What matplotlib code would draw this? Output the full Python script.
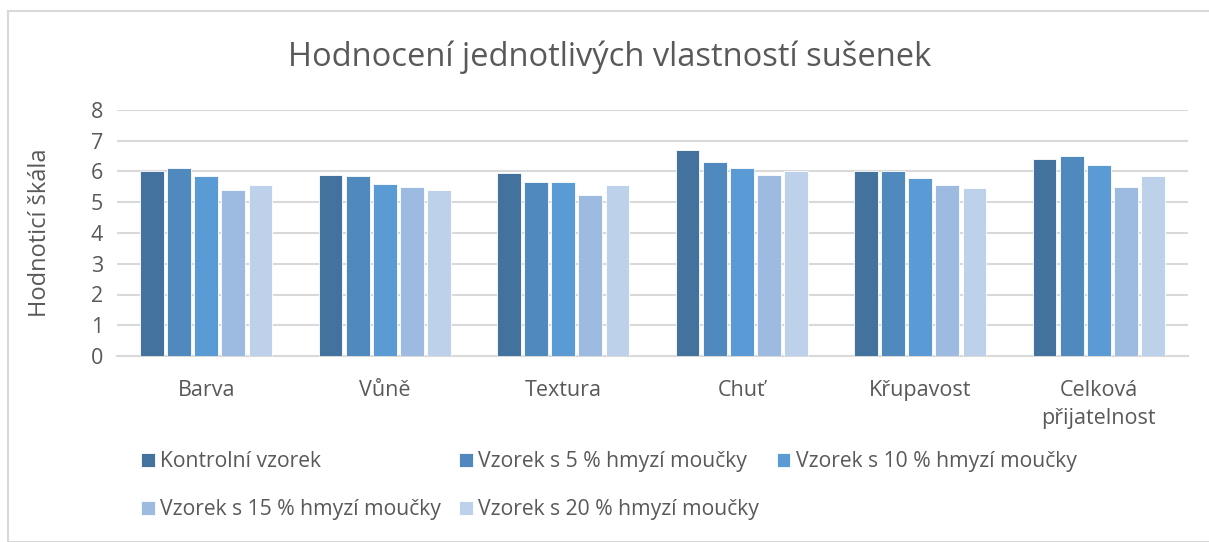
import matplotlib.pyplot as plt
import numpy as np
from matplotlib.patches import Rectangle

categories = ["Barva", "Vůně", "Textura", "Chuť", "Křupavost", "Celková\npřijatelnost"]
series_names = [
    "Kontrolní vzorek",
    "Vzorek s 5 % hmyzí moučky",
    "Vzorek s 10 % hmyzí moučky",
    "Vzorek s 15 % hmyzí moučky",
    "Vzorek s 20 % hmyzí moučky",
]
kontrolni = [6.0, 5.9, 5.95, 6.7, 6.0, 6.4]
vzorek_5 = [6.1, 5.85, 5.65, 6.3, 6.0, 6.5]
vzorek_10 = [5.85, 5.6, 5.65, 6.1, 5.8, 6.2]
vzorek_15 = [5.4, 5.5, 5.25, 5.9, 5.55, 5.5]
vzorek_20 = [5.55, 5.4, 5.55, 6.0, 5.45, 5.85]
colors = ["#43729F", "#4F89BD", "#5B9BD5", "#9DBAE0", "#BDD1EA"]

plt.rcParams['font.family'] = ['Open Sans', 'DejaVu Sans']
text_color = "#595959"

fig = plt.figure(figsize=(12.09, 5.42), dpi=100)
ax = fig.add_axes([117 / 1209, 1 - 356 / 542, (1188 - 117) / 1209, (356 - 110) / 542])

x = np.arange(len(categories))
slot = 0.152
handles = []
for i, (vals, name) in enumerate(zip([kontrolni, vzorek_5, vzorek_10, vzorek_15, vzorek_20], series_names)):
    b = ax.bar(x + (i - 2) * slot, vals, width=slot * 0.88, color=colors[i],
               edgecolor="white", linewidth=0.6, label=name, zorder=3)
    handles.append(b)

ax.set_xlim(-0.5, len(categories) - 0.5)
ax.set_ylim(0, 8)
ax.set_yticks(range(9))
ax.grid(axis="y", color="#D9D9D9", linewidth=1.5, zorder=0)
for s in ["top", "right", "left"]:
    ax.spines[s].set_visible(False)
ax.spines["bottom"].set_color("#D9D9D9")
ax.spines["bottom"].set_linewidth(1.5)
ax.tick_params(length=0, colors=text_color, labelsize=15.5)
ax.tick_params(axis="x", pad=17)
ax.tick_params(axis="y", pad=10)
ax.set_xticks(x)
ax.set_xticklabels(categories, linespacing=1.45)
ax.set_ylabel("Hodnoticí škála", fontsize=17, color=text_color, labelpad=28)

fig.text(0.5 + 5 / 1209, 1 - 57 / 542, "Hodnocení jednotlivých vlastností sušenek",
         ha="center", va="center", fontsize=23.5, color=text_color)

order = [0, 3, 1, 4, 2]
fig.legend([handles[k] for k in order], [series_names[k] for k in order],
           ncol=3, loc="upper left", bbox_to_anchor=(122 / 1209, 1 - 432 / 542),
           frameon=False, fontsize=15.2, labelcolor=text_color, handlelength=0.65,
           handleheight=0.65, handletextpad=0.25, columnspacing=0.85, labelspacing=1.3)

fig.patches.append(Rectangle((8 / 1209, 0), 1.2, 1 - 11 / 542, transform=fig.transFigure,
                             fill=False, edgecolor="#D9D9D9", linewidth=1.5))

fig.savefig("out.png")
